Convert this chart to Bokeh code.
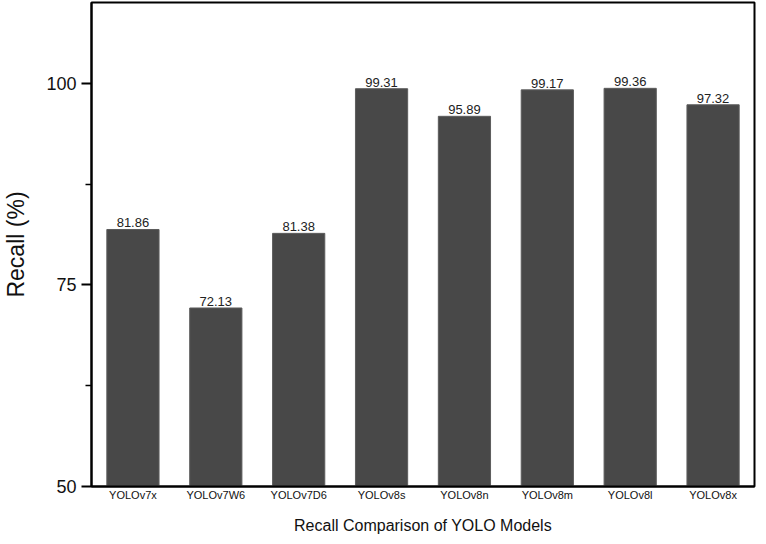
from bokeh.plotting import figure
from bokeh.models import ColumnDataSource, FixedTicker, LabelSet, Range1d
from bokeh.core.properties import value
from bokeh.embed import file_html
from bokeh.resources import INLINE

models = ["YOLOv7x", "YOLOv7W6", "YOLOv7D6", "YOLOv8s", "YOLOv8n", "YOLOv8m", "YOLOv8l", "YOLOv8x"]
recall = [81.86, 72.13, 81.38, 99.31, 95.89, 99.17, 99.36, 97.32]
labels = ["81.86", "72.13", "81.38", "99.31", "95.89", "99.17", "99.36", "97.32"]
y_major = [50, 75, 100]
y_minor = [62.5, 87.5]

FONT = "Liberation Sans"

src = ColumnDataSource(dict(x=models, top=recall, lab=labels))

p = figure(x_range=models, y_range=Range1d(50, 110), width=758, height=536,
           output_backend="svg", toolbar_location=None,
           min_border_left=88, min_border_right=4, min_border_top=2, min_border_bottom=30)

p.vbar(x="x", top="top", bottom=50, width=0.63, source=src,
       fill_color="#484848", line_color="#5c5c5c", line_width=1)

p.add_layout(LabelSet(x="x", y="top", text="lab", source=src, text_align="center",
                      text_baseline="bottom", y_offset=2, text_font=value(FONT),
                      text_font_size="13px", text_color="#222222"))

p.grid.visible = False
p.outline_line_color = "black"
p.outline_line_width = 2

ya = p.yaxis[0]
ya.ticker = FixedTicker(ticks=y_major, minor_ticks=y_minor)
ya.axis_line_width = 2
ya.axis_line_color = "black"
ya.major_tick_out = 10
ya.major_tick_in = 0
ya.minor_tick_out = 6
ya.minor_tick_in = 0
ya.major_tick_line_width = 2
ya.minor_tick_line_width = 1.5
ya.major_label_text_font = FONT
ya.major_label_text_font_size = "18px"
ya.major_label_text_color = "#111111"
ya.axis_label = "Recall (%)"
ya.axis_label_text_font = FONT
ya.axis_label_text_font_size = "23px"
ya.axis_label_text_font_style = "normal"
ya.axis_label_text_color = "#111111"
ya.axis_label_standoff = 14

xa = p.xaxis[0]
xa.axis_line_width = 2
xa.axis_line_color = "black"
xa.major_tick_line_color = None
xa.minor_tick_line_color = None
xa.major_tick_out = 0
xa.major_tick_in = 0
xa.major_label_text_font = FONT
xa.major_label_text_font_size = "11px"
xa.major_label_text_color = "#111111"
xa.major_label_standoff = 2
xa.axis_label = "Recall Comparison of YOLO Models"
xa.axis_label_text_font = FONT
xa.axis_label_text_font_size = "16px"
xa.axis_label_text_font_style = "normal"
xa.axis_label_text_color = "#111111"
xa.axis_label_standoff = 13

open("out.html", "w").write(file_html(p, INLINE))
